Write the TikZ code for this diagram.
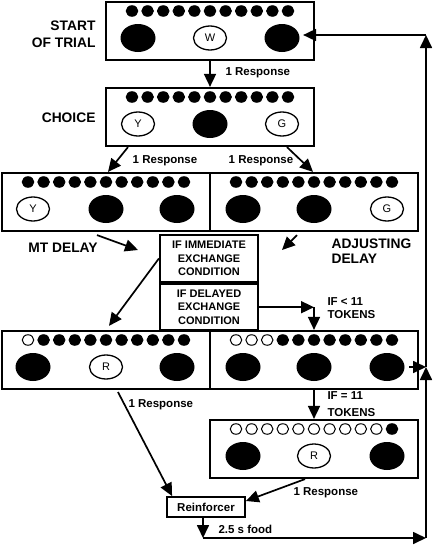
\documentclass[tikz,border=0pt]{standalone}
\usepackage{fontspec}
\setmainfont{Liberation Sans}
\usetikzlibrary{calc,shapes.geometric,arrows.meta}
\tikzset{
 box/.style={draw,line width=2.2pt,minimum width=208pt,minimum height=58pt,inner sep=0pt},
 token/.style={ellipse,draw,fill=black,line width=1pt,minimum width=11.5pt,minimum height=10.5pt,inner sep=0pt},
 litlamp/.style={ellipse,fill=black,minimum width=35pt,minimum height=28pt,inner sep=0pt},
 keylamp/.style={ellipse,draw,line width=1.3pt,minimum width=33pt,minimum height=24pt,inner sep=0pt,font=\fontsize{11}{11}\selectfont},
 cond/.style={draw,line width=2.2pt,minimum width=98pt,inner sep=0pt,align=center,font=\fontsize{11}{13.5}\selectfont\bfseries},
 arr/.style={line width=1.7pt,-{Triangle[length=13pt,width=12pt]}},
 bigtxt/.style={font=\fontsize{13.8}{16.5}\selectfont\bfseries},
 smalltxt/.style={font=\fontsize{11.5}{13}\selectfont\bfseries}
}
\newcommand{\panel}[5]{% name, x centre, y centre, hollow tokens, lamps offset/style/letter
 \node[box] (#1) at (#2,#3) {};
 \foreach \i in {1,...,11}{
  \ifnum\i>#4 \def\tk{black}\else\def\tk{white}\fi
  \node[token,fill=\tk] at (#2-93.6+15.6*\i,#3-20) {};
 }
 \foreach \k/\s/\t in {#5}
  \node[\s] at (#2+\k,#3+7) {\t};
}

\begin{document}
\begin{tikzpicture}[x=1pt,y=-1pt]
\useasboundingbox (0,0) rectangle (435,546);

\panel{start}{210}{31}{0}{-72/litlamp/{},0/keylamp/W,72/litlamp/{}}
\panel{choice}{210}{117}{0}{-72/keylamp/Y,0/litlamp/{},72/keylamp/G}
\panel{mt}{106}{202}{0}{-73/keylamp/Y,0/litlamp/{},71/litlamp/{}}
\panel{adj}{314}{202}{0}{-71/litlamp/{},0/litlamp/{},73/keylamp/G}
\panel{immex}{106}{360}{1}{-73/litlamp/{},0/keylamp/R,71/litlamp/{}}
\panel{delex}{314}{360}{3}{-71/litlamp/{},0/litlamp/{},73/litlamp/{}}
\panel{swap}{314}{449}{10}{-71/litlamp/{},0/keylamp/R,73/litlamp/{}}

\node[cond,minimum height=47pt] (ifimm) at (209,258.5) {IF IMMEDIATE\\EXCHANGE\\CONDITION};
\node[cond,minimum height=46pt,anchor=north] (ifdel) at (ifimm.south) {IF DELAYED\\EXCHANGE\\CONDITION};
\node[draw,line width=1.8pt,minimum width=78pt,minimum height=20pt,inner sep=0pt,smalltxt] (reinf) at (206,507) {Reinforcer};

% labels
\node[bigtxt,align=right,anchor=east] at (99,34) {START\\OF TRIAL};
\node[bigtxt,anchor=east] at (99,118) {CHOICE};
\node[bigtxt] at (63,248) {MT DELAY};
\node[bigtxt,align=left,anchor=west,font=\fontsize{13.8}{14.5}\selectfont\bfseries] at (328,251) {ADJUSTING\\DELAY};
\node[smalltxt,anchor=west] at (222,73) {1 Response};
\node[smalltxt] at (165,161) {1 Response};
\node[smalltxt] at (261,161) {1 Response};
\node[smalltxt,align=left,anchor=west,font=\fontsize{11.5}{12.5}\selectfont\bfseries] at (324,308) {IF < 11\\TOKENS};
\node[smalltxt,align=left,anchor=west,font=\fontsize{11.5}{16.5}\selectfont\bfseries] at (324,404) {IF = 11\\TOKENS};
\node[smalltxt,anchor=west] at (125,405) {1 Response};
\node[smalltxt,anchor=west] at (290,493) {1 Response};
\node[smalltxt,anchor=west] at (215,529) {2.5 s food};

% connectors
\coordinate (mtarr) at (138,250);
\coordinate (adjarr) at (282,250);
\coordinate (foot) at (203,538);
\coordinate (corner) at (426,538);
\coordinate (loop) at (426,367);
\coordinate (back) at (426,35);

\draw[arr] (start) -- (choice);
\draw[arr] ([xshift=-82pt]choice.south) -- ([xshift=2pt]mt.north);
\draw[arr] ([xshift=77pt]choice.south) -- ([xshift=-1pt]adj.north);
\draw[arr] ([shift={(-9,3)}]mt.south) -- (mtarr);
\draw[arr] ([shift={(-17,3)}]adj.south) -- (adjarr);
\draw[arr,shorten >=5pt] (ifimm.west) -- (immex.north);
\draw[arr] (ifdel.east) -- (ifdel.east -| delex.north);
\draw[arr] (ifdel.east -| delex.north) -- (delex.north);
\draw[arr] (delex) -- (swap);
\draw[arr] ([shift={(12,2)}]immex.south) -- ([xshift=6pt]reinf.north west);
\draw[arr] ([xshift=-9pt]swap.south) -- ([yshift=6pt]reinf.east);
\draw[arr] ([xshift=-3pt]reinf.south) -- (foot);
\draw[arr] (foot) -- (corner);
\draw[arr] (corner) -- (loop);
\draw[arr] ([shift={(-10,7)}]delex.east) -- (loop);
\draw[arr] (loop) -- (back);
\draw[arr] (back) -- ([shift={(-12,4)}]start.east);
\end{tikzpicture}
\end{document}
